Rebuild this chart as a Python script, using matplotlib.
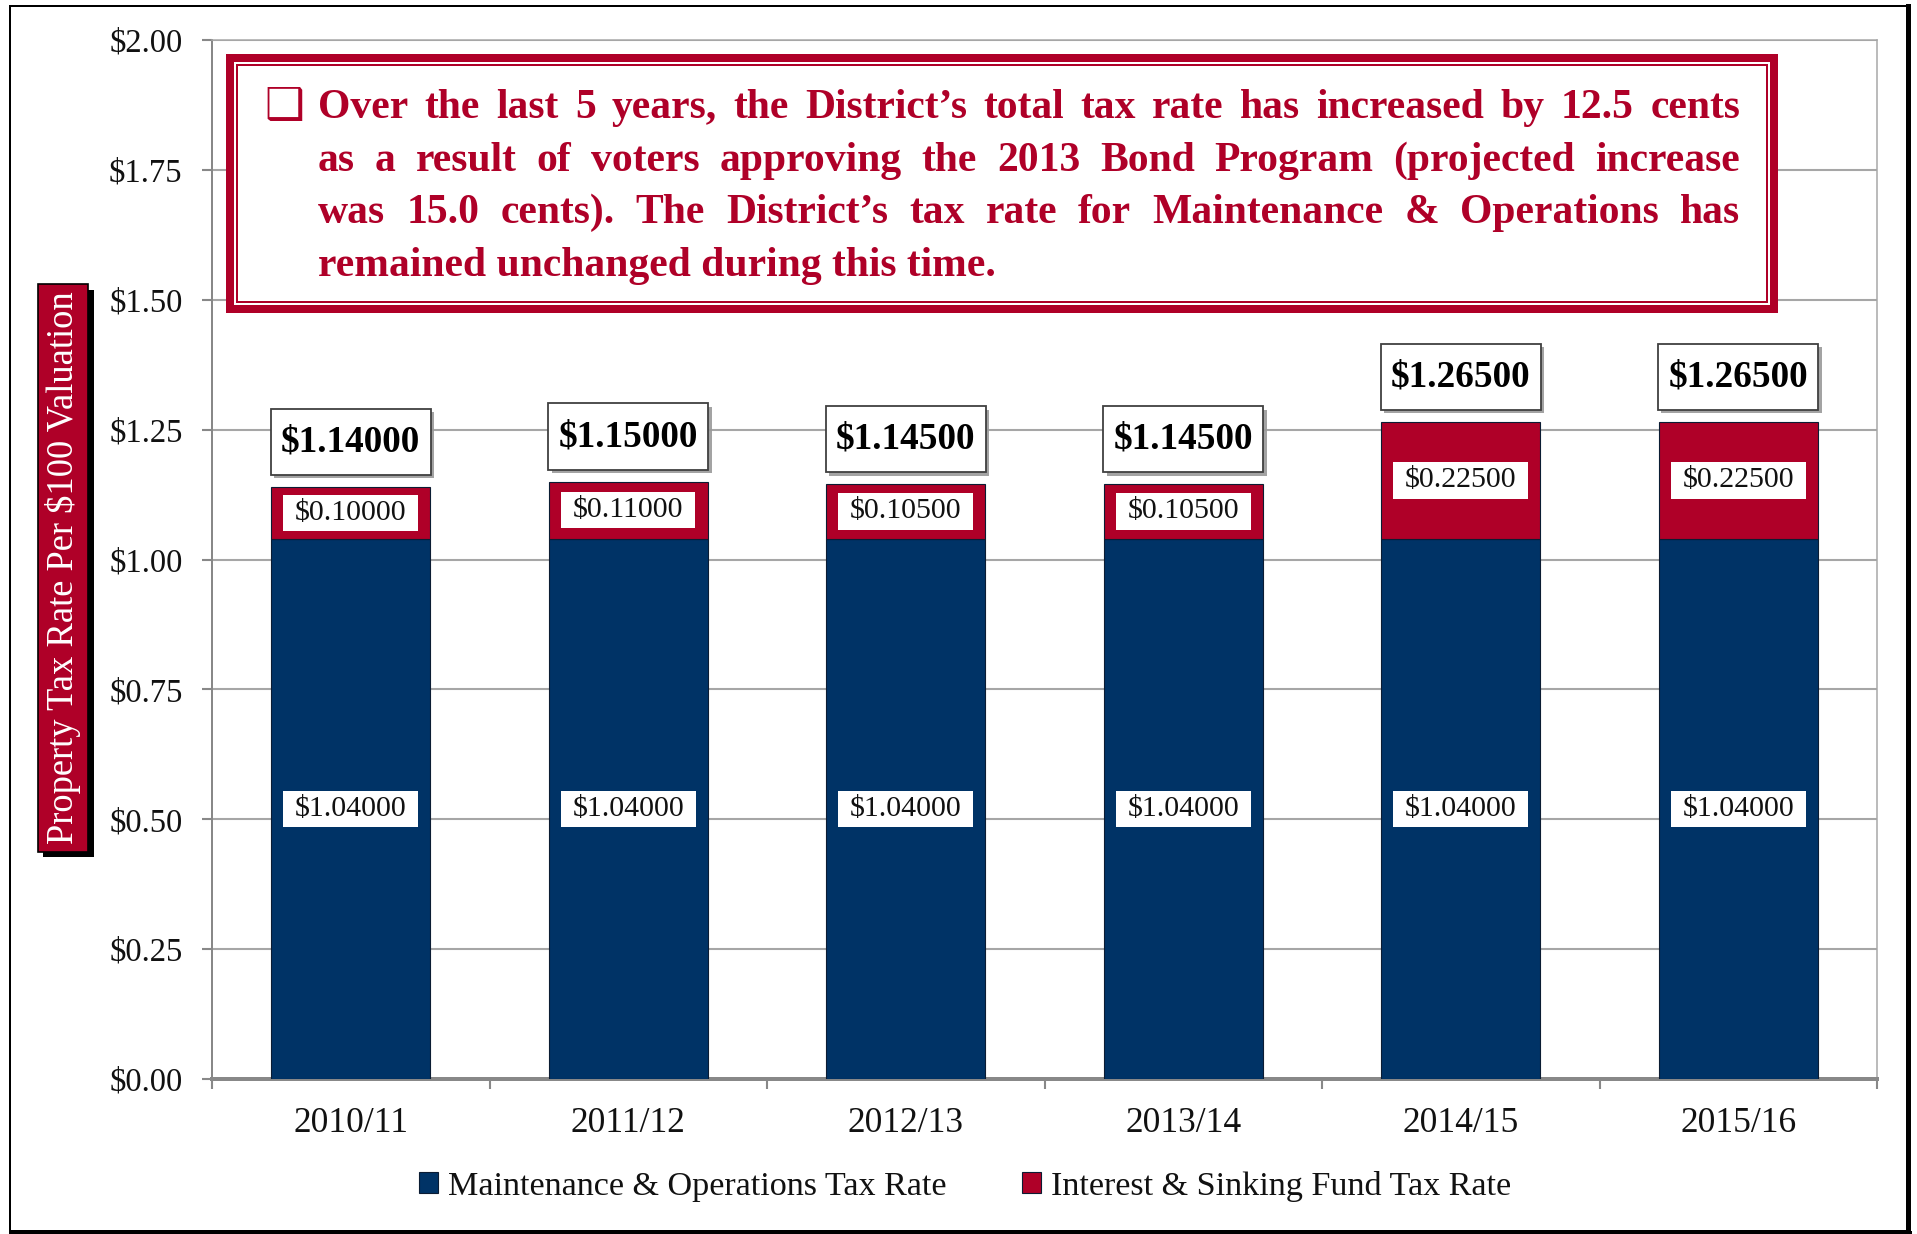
import matplotlib
matplotlib.use('Agg')
import matplotlib.pyplot as plt
from matplotlib.patches import Rectangle
from matplotlib.lines import Line2D
from matplotlib.ticker import FuncFormatter
import matplotlib.patheffects as pe
import numpy as np

# ---------------- data ----------------
years = ['2010/11', '2011/12', '2012/13', '2013/14', '2014/15', '2015/16']
mo_rate = [1.04, 1.04, 1.04, 1.04, 1.04, 1.04]
is_rate = [0.100, 0.110, 0.105, 0.105, 0.225, 0.225]
series_names = ['Maintenance & Operations Tax Rate', 'Interest & Sinking Fund Tax Rate']
y_ticks = [0.0, 0.25, 0.50, 0.75, 1.00, 1.25, 1.50, 1.75, 2.00]
y_title = 'Property Tax Rate Per \\$100 Valuation'
note_lines = [
    'Over the last 5 years, the District\u2019s total tax rate has increased by 12.5 cents',
    'as a result of voters approving the 2013 Bond Program (projected increase',
    'was 15.0 cents). The District\u2019s tax rate for Maintenance & Operations has',
    'remained unchanged during this time.',
]

NAVY = '#003366'
RED = '#AF0028'
GRID = '#A6A6A6'
SERIF = ['Liberation Serif', 'DejaVu Serif']

W, H, DPI = 1917, 1234, 100
fig = plt.figure(figsize=(W / DPI, H / DPI), dpi=DPI)
fig.patch.set_facecolor('white')


def fx(px):
    return px / W


def fy(py):
    return 1 - py / H


PT = 72.0 / DPI  # points per pixel

# ---------------- axes ----------------
ax = fig.add_axes([fx(212), fy(1079), fx(1877) - fx(212), fy(40) - fy(1079)])
x = np.arange(len(years))
totals = [m + i for m, i in zip(mo_rate, is_rate)]

b1 = ax.bar(x, mo_rate, width=0.573, color=NAVY, edgecolor='#0b1c33', linewidth=0.8,
            zorder=3, label=series_names[0])
b2 = ax.bar(x, is_rate, bottom=mo_rate, width=0.573, color=RED, edgecolor='#0b1c33',
            linewidth=0.8, zorder=3, label=series_names[1])

ax.set_xlim(-0.5, len(years) - 0.5)
ax.set_ylim(0, 2.0)
ax.set_yticks(y_ticks)
ax.yaxis.set_major_formatter(FuncFormatter(lambda v, p: '\\$%.2f' % v))
ax.set_xticks(x)
ax.set_xticklabels(years)
ax.set_xticks(np.arange(-0.5, len(years), 1.0), minor=True)
ax.grid(axis='y', color=GRID, lw=1.5, zorder=0)
ax.set_axisbelow(True)

ax.tick_params(axis='y', which='major', length=10 * PT, width=1.5, color='#888888',
               pad=14, labelsize=23.5)
ax.tick_params(axis='x', which='major', length=0, pad=20, labelsize=25.5)
ax.tick_params(axis='x', which='minor', length=10 * PT, width=1.5, color='#888888')
for lab in ax.get_xticklabels() + ax.get_yticklabels():
    lab.set_family(SERIF)
    lab.set_color('#111111')

ax.spines['left'].set_color('#888888')
ax.spines['left'].set_linewidth(2 * PT)
ax.spines['bottom'].set_color('#888888')
ax.spines['bottom'].set_linewidth(4 * PT)
ax.spines['right'].set_color(GRID)
ax.spines['right'].set_linewidth(1.5 * PT)
ax.spines['top'].set_color(GRID)
ax.spines['top'].set_linewidth(1.5 * PT)

# segment labels
seg_box = dict(boxstyle='square,pad=0.39', fc='white', ec='none', mutation_aspect=0.45)
ax.bar_label(b1, labels=['\\$%.5f' % v for v in mo_rate], label_type='center',
             fontsize=21.5, family=SERIF, color='#111111', bbox=seg_box, zorder=4)
ax.bar_label(b2, labels=['\\$%.5f' % v for v in is_rate], label_type='center',
             fontsize=21.5, family=SERIF, color='#111111', bbox=seg_box, zorder=4)

# total labels
for i, t in enumerate(totals):
    a = ax.annotate('\\$%.5f' % t, (x[i], t), xytext=(0, 45 * PT), textcoords='offset points',
                    ha='center', va='center', fontsize=26.8, fontweight='bold', family=SERIF,
                    color='black', zorder=5,
                    bbox=dict(boxstyle='square,pad=0.28', fc='white', ec='#404040', lw=1.3,
                              mutation_aspect=1.5))
    a.get_bbox_patch().set_path_effects([
        pe.SimplePatchShadow(offset=(2.5, -2.5), shadow_rgbFace='#999999', alpha=0.9),
        pe.Normal()])

# ---------------- legend ----------------
leg = fig.legend(handles=[b1, b2], loc='center', bbox_to_anchor=(fx(965), fy(1186)),
                 ncol=2, frameon=False, prop={'family': SERIF, 'size': 24.6},
                 handlelength=0.55, handleheight=0.55, handletextpad=0.3, columnspacing=2.2)
for t in leg.get_texts():
    t.set_color('#111111')

# ---------------- y title box ----------------
yt = fig.text(fx(63), fy(568), y_title, rotation=90, ha='center', va='center', color='white',
              fontsize=26.3, family=SERIF,
              bbox=dict(boxstyle='square,pad=0.2', fc=RED, ec='black', lw=1.2))
yt.get_bbox_patch().set_path_effects([
    pe.SimplePatchShadow(offset=(4, -4), shadow_rgbFace='black', alpha=1.0), pe.Normal()])

# ---------------- note box ----------------
def frect(x0, y0, x1, y1, **kw):
    r = Rectangle((fx(x0), fy(y1)), fx(x1) - fx(x0), fy(y0) - fy(y1),
                  transform=fig.transFigure, **kw)
    fig.add_artist(r)
    return r

frect(230, 58, 1774, 309, fc='white', ec=RED, lw=8 * PT, zorder=5)
frect(237, 65, 1767, 302, fill=False, ec=RED, lw=2 * PT, zorder=5)

fig.text(fx(264), fy(119), '\u2751', ha='left', va='baseline', color=RED, fontsize=32,
         family=['DejaVu Sans'], zorder=6)

fig.canvas.draw()
renderer = fig.canvas.get_renderer()


def measure(s, fs):
    t = fig.text(0, 0, s, fontsize=fs, fontweight='bold', family=SERIF)
    w = t.get_window_extent(renderer).width
    t.remove()
    return w


LEFT, RIGHT = 318, 1740
LW = RIGHT - LEFT
fs = 30.0
while fs > 16 and max(measure(l, fs) for l in note_lines[:3]) > LW:
    fs -= 0.25

baselines = [118, 171, 223, 276]
for li, line in enumerate(note_lines):
    if li < len(note_lines) - 1:
        words = line.split(' ')
        widths = [measure(w, fs) for w in words]
        gap = (LW - sum(widths)) / (len(words) - 1)
        xpos = LEFT
        for w, wd in zip(words, widths):
            fig.text(fx(xpos), fy(baselines[li]), w, ha='left', va='baseline', color=RED,
                     fontsize=fs, fontweight='bold', family=SERIF, zorder=6)
            xpos += wd + gap
    else:
        fig.text(fx(LEFT), fy(baselines[li]), line, ha='left', va='baseline', color=RED,
                 fontsize=fs, fontweight='bold', family=SERIF, zorder=6)

# ---------------- outer frame ----------------
frect(10, 6, 1907, 1231, fill=False, ec='black', lw=2 * PT, zorder=10)
fig.add_artist(Line2D([fx(1908), fx(1908)], [fy(6), fy(1232)], color='black', lw=5 * PT,
                      transform=fig.transFigure, zorder=10))
fig.add_artist(Line2D([fx(10), fx(1910)], [fy(1231.5), fy(1231.5)], color='black', lw=3 * PT,
                      transform=fig.transFigure, zorder=10))

fig.savefig('out.png', dpi=DPI)
